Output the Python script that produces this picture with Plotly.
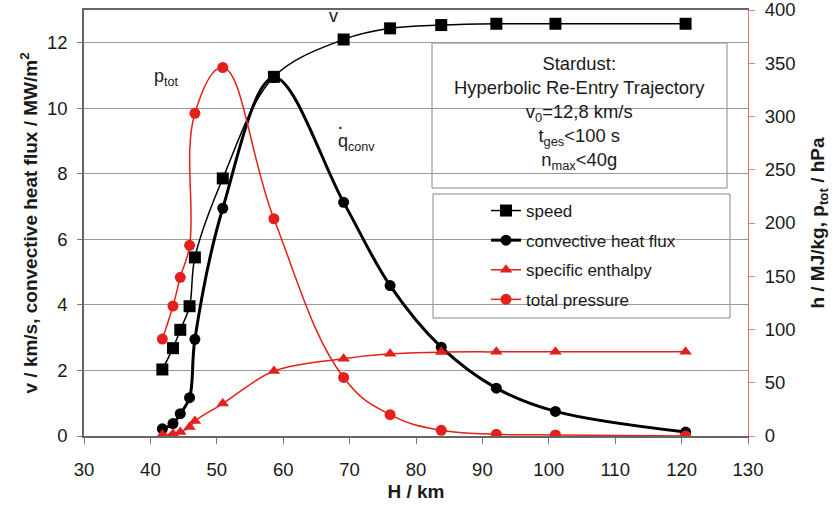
import plotly.graph_objects as go

# ---- data ----
altitude_km = [41.8, 43.4, 44.5, 45.9, 46.7, 50.9, 58.6, 69.1, 76.1, 83.8, 92.1, 101.0, 120.6]
speed_kms = [2.03, 2.68, 3.24, 3.96, 5.45, 7.86, 10.96, 12.10, 12.44, 12.54, 12.58, 12.58, 12.58]
heat_flux = [0.22, 0.38, 0.68, 1.17, 2.95, 6.95, 10.94, 7.13, 4.59, 2.71, 1.46, 0.75, 0.12]
enthalpy = [1.3, 2.2, 3.8, 8.4, 14.0, 30.4, 61.0, 72.6, 77.2, 78.8, 79.0, 79.0, 79.0]
pressure = [91, 122, 149, 179, 303, 346, 204, 55, 20, 5.3, 1.6, 1.0, 0.0]

series_names = ["speed", "convective heat flux", "specific enthalpy", "total pressure"]
x_ticks = list(range(30, 131, 10))

# ---- style ----
RED = "#e3201b"
FONT = "Liberation Sans, Arial, sans-serif"
W, H = 836, 513
ML, MR, MT, MB = 84, 88, 10, 77
PW, PH = W - ML - MR, H - MT - MB


def px(xs):
    # screen x (pixels) -> paper x
    return (xs - ML) / PW


def py(ys):
    # screen y (pixels) -> paper y
    return (MT + PH - ys) / PH


fig = go.Figure()
fig.add_trace(go.Scatter(x=altitude_km, y=speed_kms, name=series_names[0], mode="lines+markers",
                         line=dict(color="black", width=1.5, shape="spline"),
                         marker=dict(symbol="square", size=12, color="black"),
                         legendgroup="a"))
fig.add_trace(go.Scatter(x=altitude_km, y=heat_flux, name=series_names[1], mode="lines+markers",
                         line=dict(color="black", width=3, shape="spline"),
                         marker=dict(symbol="circle", size=11, color="black"),
                         legendgroup="b"))
fig.add_trace(go.Scatter(x=altitude_km, y=enthalpy, name=series_names[2], mode="lines+markers",
                         yaxis="y2",
                         line=dict(color=RED, width=1.5, shape="spline"),
                         marker=dict(symbol="triangle-up", size=11, color=RED),
                         legendgroup="c"))
fig.add_trace(go.Scatter(x=altitude_km, y=pressure, name=series_names[3], mode="lines+markers",
                         yaxis="y2",
                         line=dict(color=RED, width=1.5, shape="spline", smoothing=1.2),
                         marker=dict(symbol="circle", size=11, color=RED),
                         legendgroup="d"))

shapes = [
    # info text box
    dict(type="rect", xref="paper", yref="paper", x0=px(432), x1=px(727), y0=py(188), y1=py(43),
         line=dict(color="#888888", width=1), fillcolor="white", layer="between"),
    # legend box
    dict(type="rect", xref="paper", yref="paper", x0=px(433), x1=px(730), y0=py(318), y1=py(194),
         line=dict(color="#888888", width=1), fillcolor="white", layer="between"),
]


def label(xs, ys, text, size=18):
    return dict(xref="paper", yref="paper", x=px(xs), y=py(ys), xanchor="center", yanchor="middle",
                showarrow=False, text=text, font=dict(family=FONT, size=size, color="#1a1a1a"))


annotations = [
    dict(xref="paper", yref="paper", x=px(579), y=py(113), xanchor="center", yanchor="middle",
         showarrow=False, align="center",
         text="Stardust:<br>Hyperbolic Re-Entry Trajectory<br>v<sub>0</sub>=12,8 km/s<br>"
              "t<sub>ges</sub>&lt;100 s<br>n<sub>max</sub>&lt;40g",
         font=dict(family=FONT, size=18.4, color="#1a1a1a")),
    label(333, 16, "v"),
    label(166, 78, "p<sub>tot</sub>"),
    label(356, 143, "q<sub>conv</sub>"),
    label(340, 126, "·", 20),
]

fig.update_layout(
    width=W, height=H,
    margin=dict(l=ML, r=MR, t=MT, b=MB, pad=0, autoexpand=False),
    paper_bgcolor="white", plot_bgcolor="white",
    font=dict(family=FONT, size=18, color="#1a1a1a"),
    showlegend=True,
    legend=dict(x=px(486), y=py(193), xanchor="left", yanchor="top",
                bgcolor="rgba(0,0,0,0)", borderwidth=0,
                traceorder="grouped", tracegroupgap=4.5,
                font=dict(family=FONT, size=17, color="#1a1a1a")),
    xaxis=dict(range=[30, 130], tickvals=x_ticks, ticks="outside", ticklen=6, tickcolor="#777777",
               showline=True, linecolor="#666666", linewidth=1.5, mirror=True,
               showgrid=False, zeroline=False, ticklabelstandoff=10, automargin=False,
               tickfont=dict(size=18.5),
               title=dict(text="<b>H / km</b>", standoff=6, font=dict(size=19))),
    yaxis=dict(range=[0, 13], dtick=2, ticks="outside", ticklen=5, tickcolor="#777777",
               showline=True, linecolor="#666666", linewidth=1.5, automargin=False,
               showgrid=True, gridcolor="#9a9a9a", gridwidth=1, zeroline=False,
               ticklabelstandoff=6, tickfont=dict(size=18.5),
               title=dict(text="<b>v / km/s, convective heat flux / MW/m<sup>2</sup></b>",
                          standoff=4, font=dict(size=19))),
    yaxis2=dict(range=[0, 400], dtick=50, overlaying="y", side="right", anchor="x",
                ticks="outside", ticklen=6, tickcolor="#f08080", automargin=False,
                showline=True, linecolor="#e07070", linewidth=1.2, ticklabeloverflow="allow",
                showgrid=False, zeroline=False, ticklabelstandoff=6, tickfont=dict(size=18.5),
                title=dict(text="<b>h / MJ/kg, p<sub>tot</sub> / hPa</b>", standoff=16,
                           font=dict(size=19))),
    yaxis3=dict(range=[0, 400], dtick=50, overlaying="y", side="right", anchor="x",
                ticks="inside", ticklen=6, tickcolor="#f08080", automargin=False,
                showticklabels=False, showline=False, showgrid=False, zeroline=False),
    shapes=shapes,
    annotations=annotations,
)

fig.write_html("out.html", config={"displayModeBar": False},
               post_script="document.body.style.margin='0';")
